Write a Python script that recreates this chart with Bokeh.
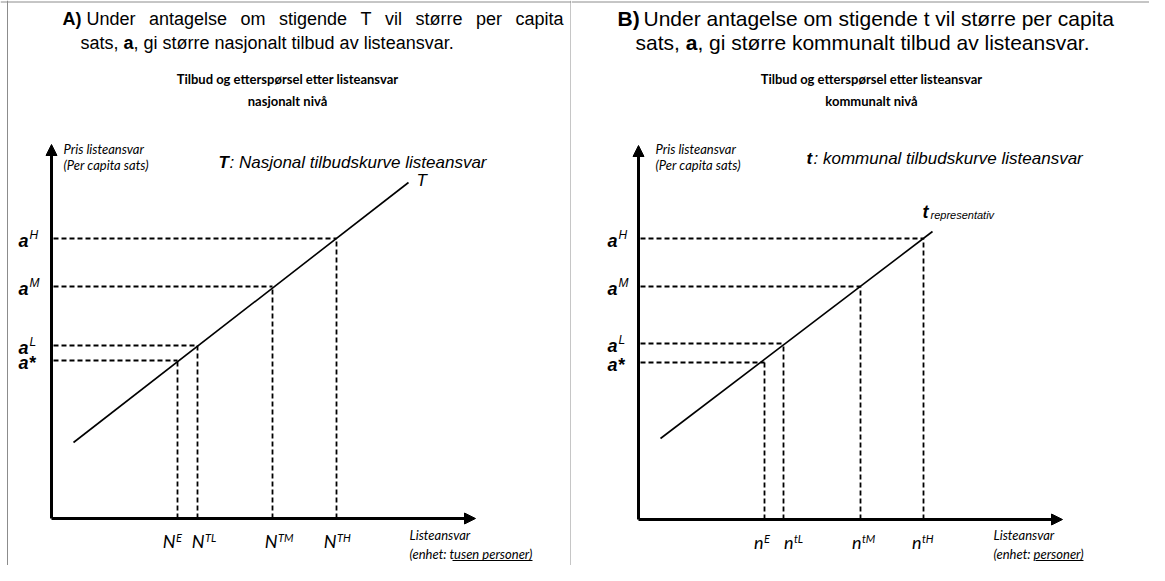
from bokeh.plotting import figure
from bokeh.layouts import row
from bokeh.models import Range1d, Arrow, NormalHead, Span
from bokeh.embed import file_html
from bokeh.resources import INLINE
from bokeh.core.properties import value

# ---------------- data (diagram units, origin = axes corner) ----------------
price_keys = ["*", "L", "M", "H"]

# Panel A: national level
price_A = [158, 173, 232, 280]
qty_keys_A = ["E", "TL", "TM", "TH"]
qty_A = [126, 146, 221, 285]
qty_label_dx_A = [-2, 7, 5, 0]
supply_A_x = [22, 357]
supply_A_y = [76, 336]

# Panel B: municipal level
price_B = [157, 176, 233, 281]
qty_keys_B = ["E", "tL", "tM", "tH"]
qty_B = [126, 145, 222, 285]
qty_label_dx_B = [-1, 10, 1, -2]
supply_B_x = [22, 294]
supply_B_y = [81, 288]

title_A1 = "Under antagelse om stigende T vil større per capita"
title_B1 = "Under antagelse om stigende t vil større per capita"

ARIAL = value("Liberation Sans")
CAL = value("Lato")
GRAY = "#8c8c8c"

# Arial/Liberation Sans advance widths (per 1000 em) for justified title line
AW = {" ": 278, "U": 722, "n": 556, "d": 556, "e": 556, "r": 333, "a": 556, "t": 278,
      "g": 556, "l": 222, "s": 500, "o": 556, "m": 833, "i": 222, "T": 611, "v": 500,
      "ø": 611, "p": 556, "c": 500, ",": 278}


def aw(s, size):
    return sum(AW.get(ch, 556) for ch in s) * size / 1000.0


def txt(p, x, y, s, font=ARIAL, size="18px", style="normal", align="left", color="black"):
    p.text(x=[x], y=[y], text=[s], text_font=font, text_font_size=size,
           text_font_style=style, text_align=align, text_baseline="middle",
           text_color=color)


def justified(p, x0, x1, y, line, size):
    words = line.split(" ")
    total = sum(aw(w, size) for w in words)
    gap = (x1 - x0 - total) / (len(words) - 1)
    x = x0
    for w in words:
        txt(p, x, y, w, size="%dpx" % size)
        x += aw(w, size) + gap


def make_panel(width, xr, yr, prices, qtys, qkeys, qdx, sx, sy, qletter, a_x, sup_x):
    p = figure(width=width, height=565, x_range=Range1d(*xr), y_range=Range1d(*yr),
               x_axis_type=None, y_axis_type=None, toolbar_location=None,
               output_backend="svg", min_border=0, outline_line_color=None,
               background_fill_color="white", border_fill_color="white")
    p.grid.visible = False
    p.add_layout(Arrow(end=NormalHead(size=11, fill_color="black", line_color="black"),
                       x_start=0, y_start=0, x_end=0, y_end=374, line_width=3))
    p.add_layout(Arrow(end=NormalHead(size=11, fill_color="black", line_color="black"),
                       x_start=0, y_start=0, x_end=424, y_end=0, line_width=3))
    p.line(sx, sy, line_color="black", line_width=1.6)
    for a, q in zip(prices, qtys):
        p.line([2, q], [a, a], line_color="black", line_width=1.8, line_dash="5 3")
        p.line([q, q], [0, a], line_color="black", line_width=1.8, line_dash="5 3")
    for k, a in zip(price_keys, prices):
        if k == "*":
            txt(p, a_x, a - 2, "a*", size="18px", style="bold italic")
        else:
            txt(p, a_x, a - 2, "a", size="18px", style="bold italic")
            txt(p, sup_x, a + 4, k, size="12px", style="italic")
    for k, q, dx in zip(qkeys, qtys, qdx):
        txt(p, q + dx, -22, qletter, font=CAL, size="18px", style="italic", align="right")
        txt(p, q + dx + 0.5, -19, k, font=CAL, size="11px", style="italic")
    return p


# ---------------- Panel A (data x = page x - 51, data y = 518 - page y) ----------------
pA = make_panel(571, (-51, 520), (-47, 518), price_A, qty_A, qty_keys_A, qty_label_dx_A,
                supply_A_x, supply_A_y, "N", -33, -22)
txt(pA, 11, 500, "A)", style="bold")
justified(pA, 35, 512, 500, title_A1, 18)
txt(pA, 29, 476, "sats, ")
txt(pA, 29 + aw("sats, ", 18), 476, "a", style="bold")
txt(pA, 29 + aw("sats, ", 18) + 10, 476, ", gi større nasjonalt tilbud av listeansvar.")
txt(pA, 236, 440, "Tilbud og etterspørsel etter listeansvar", font=CAL, size="13px",
    style="bold", align="center")
txt(pA, 236, 418, "nasjonalt nivå", font=CAL, size="13px", style="bold", align="center")
txt(pA, 12, 370, "Pris listeansvar", font=CAL, size="13px", style="italic")
txt(pA, 12, 354, "(Per capita sats)", font=CAL, size="13px", style="italic")
txt(pA, 167, 356, "T", size="17px", style="bold italic")
txt(pA, 178, 356, ": Nasjonal tilbudskurve listeansvar", size="17px", style="italic")
txt(pA, supply_A_x[1] + 8, supply_A_y[1] + 2, "T", size="17px", style="italic")
txt(pA, 358, -16, "Listeansvar", font=CAL, size="13px", style="italic")
txt(pA, 358, -35, "(enhet: tusen personer)", font=CAL, size="13px", style="italic")
pA.line([401, 481], [-42, -42], line_color="black", line_width=1)
pA.add_layout(Span(location=-44, dimension="height", line_color=GRAY, line_width=1))
pA.add_layout(Span(location=516.5, dimension="width", line_color=GRAY, line_width=1))
pA.add_layout(Span(location=519.5, dimension="height", line_color=GRAY, line_width=1))

# ---------------- Panel B (data x = page x - 638, data y = 519 - page y) ----------------
pB = make_panel(578, (-67, 511), (-46, 519), price_B, qty_B, qty_keys_B, qty_label_dx_B,
                supply_B_x, supply_B_y, "n", -31, -20)
txt(pB, -21, 501, "B)", size="21px", style="bold")
txt(pB, 5, 501, title_B1, size="21px")
txt(pB, -3, 477, "sats, ", size="21px")
txt(pB, -3 + aw("sats, ", 21), 477, "a", size="21px", style="bold")
txt(pB, -3 + aw("sats, ", 21) + 11.7, 477, ", gi større kommunalt tilbud av listeansvar.",
    size="21px")
txt(pB, 233, 441, "Tilbud og etterspørsel etter listeansvar", font=CAL, size="13px",
    style="bold", align="center")
txt(pB, 233, 419, "kommunalt nivå", font=CAL, size="13px", style="bold", align="center")
txt(pB, 17, 371, "Pris listeansvar", font=CAL, size="13px", style="italic")
txt(pB, 17, 355, "(Per capita sats)", font=CAL, size="13px", style="italic")
txt(pB, 168, 361, "t", size="17px", style="bold italic")
txt(pB, 175, 361, ": kommunal tilbudskurve listeansvar", size="17px", style="italic")
txt(pB, 284, 308, "t", size="18px", style="bold italic")
txt(pB, 292, 305, "representativ", size="11px", style="italic")
txt(pB, 355, -15, "Listeansvar", font=CAL, size="13px", style="italic")
txt(pB, 355, -34, "(enhet: personer)", font=CAL, size="13px", style="italic")
pB.line([397, 445], [-41, -41], line_color="black", line_width=1)
pB.add_layout(Span(location=517.5, dimension="width", line_color=GRAY, line_width=1))

layout = row(pA, pB, spacing=0)
open("out.html", "w").write(file_html(layout, INLINE))
